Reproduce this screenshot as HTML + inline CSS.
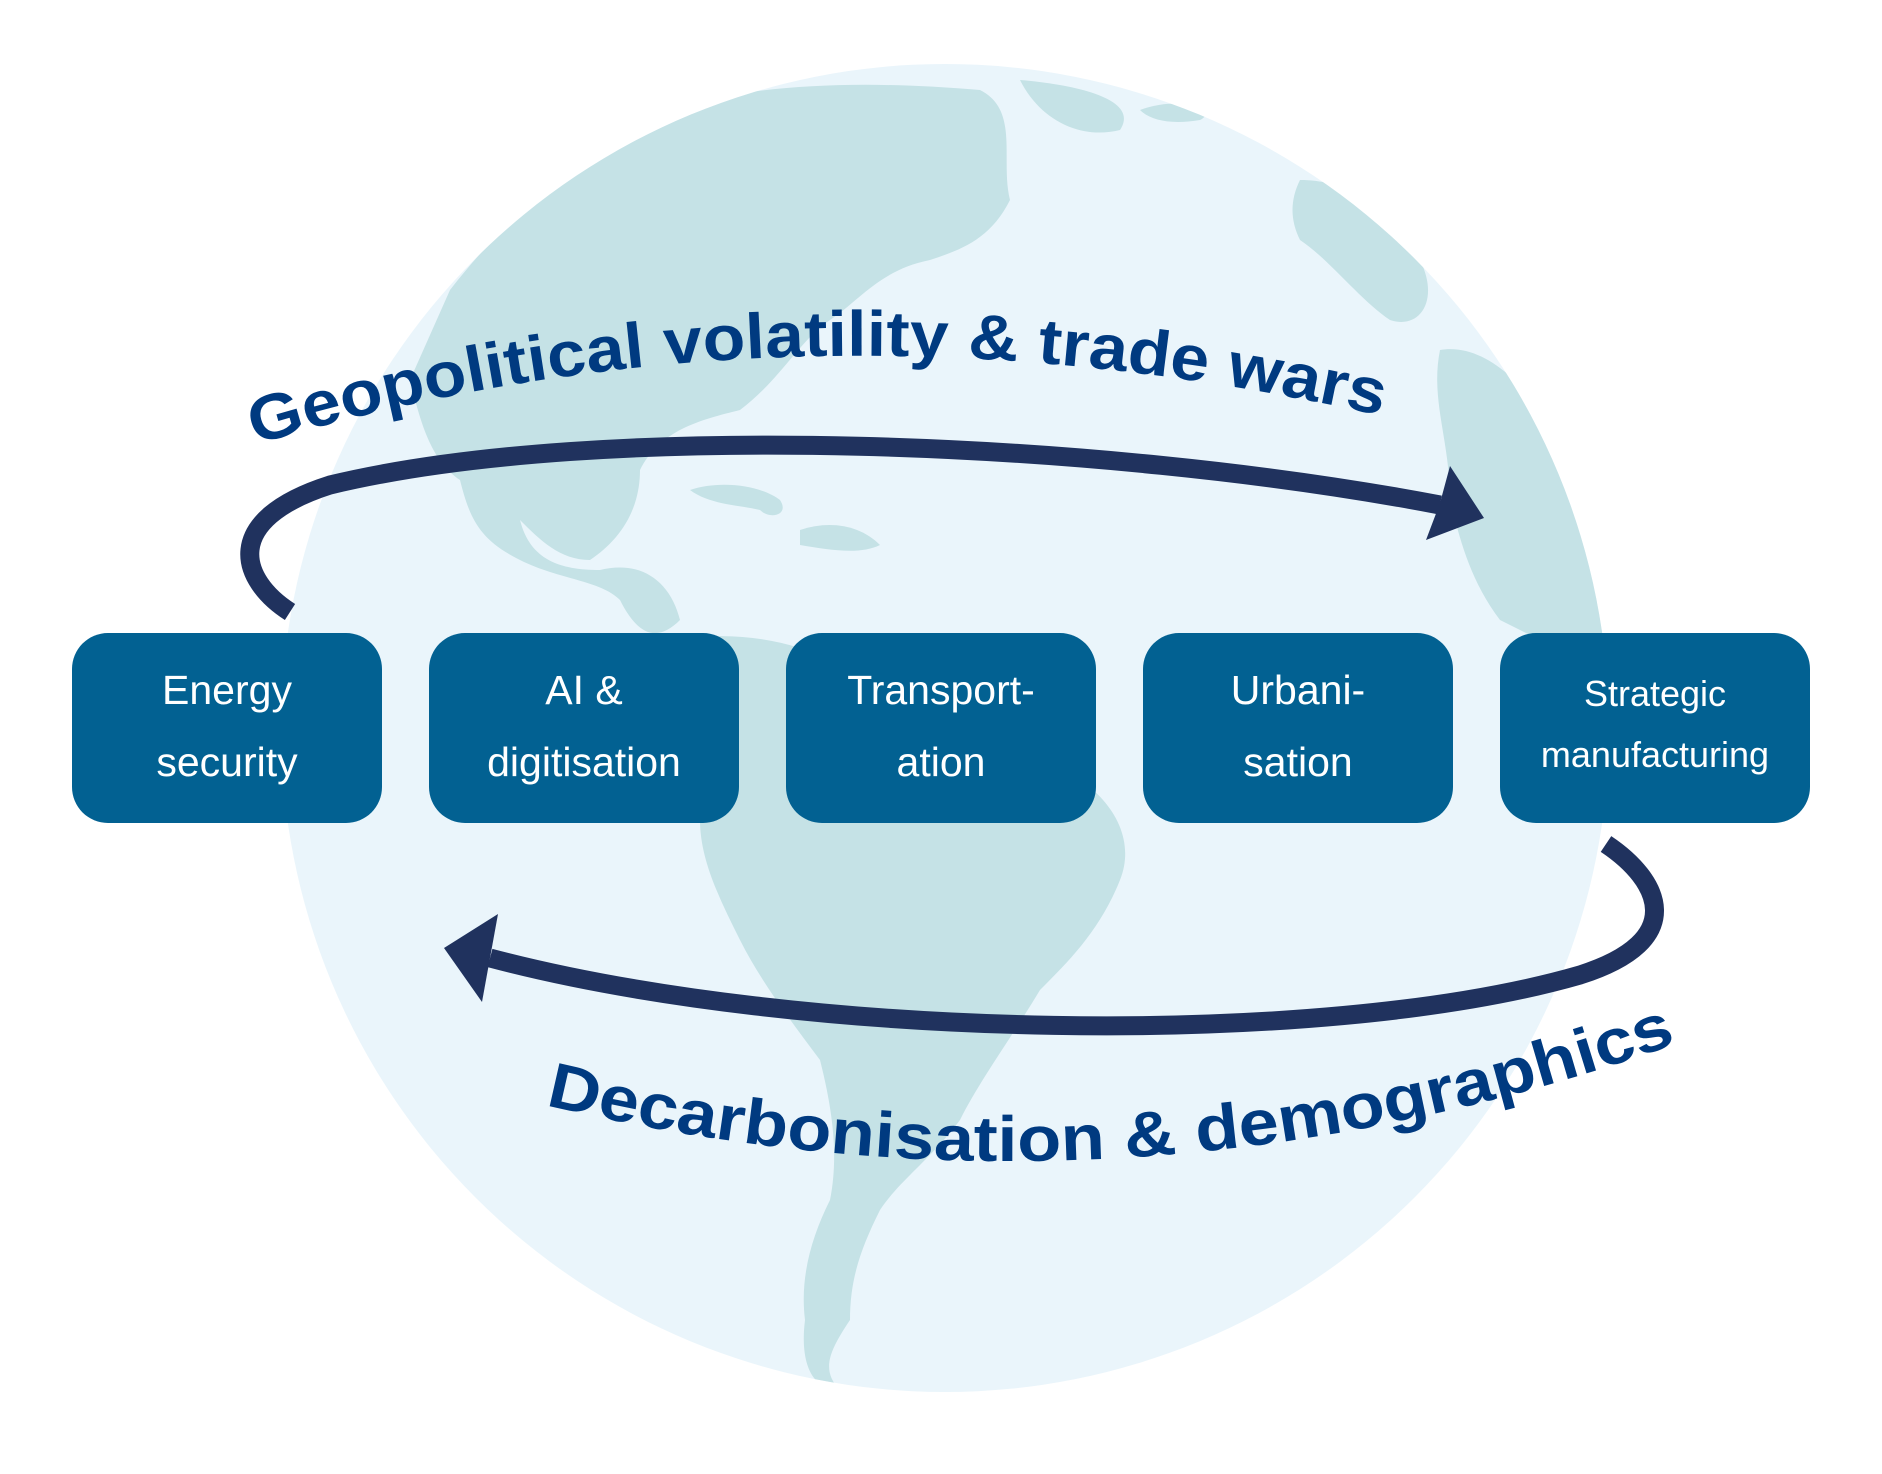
<!DOCTYPE html>
<html><head><meta charset="utf-8"><style>
html,body{margin:0;padding:0;background:#fff;width:1882px;height:1474px;overflow:hidden}
svg{display:block}
</style></head><body>
<svg width="1882" height="1474" viewBox="0 0 1882 1474" xmlns="http://www.w3.org/2000/svg">
<defs><clipPath id="g"><circle cx="945" cy="728" r="664"/></clipPath></defs>
<circle cx="945" cy="728" r="664" fill="#eaf5fb"/>
<g clip-path="url(#g)" fill="#c5e2e6">
<path d="M450 290 C520 200 600 140 700 100 C780 85 860 80 980 90 C1020 110 1000 160 1010 200 C990 240 960 250 930 260 C880 270 860 300 830 320 C800 340 780 380 740 410 C700 420 660 430 640 470 C640 510 620 540 590 560 C560 560 540 540 520 520 C530 560 560 570 600 570 C640 560 670 580 680 620 C660 640 640 640 620 600 C600 580 560 580 520 560 C480 540 470 520 460 480 C430 460 420 420 410 380 Z"/>
<path d="M1020 80 C1080 85 1140 100 1120 130 C1080 140 1040 120 1020 80 Z"/>
<path d="M1140 110 C1180 95 1220 110 1200 120 C1170 125 1150 120 1140 110 Z"/>
<path d="M690 490 C720 480 760 485 780 500 C790 515 770 520 760 510 C740 505 710 505 690 490 Z"/>
<path d="M800 530 C830 520 860 525 880 545 C860 555 830 550 800 545 Z"/>
<path d="M680 640 C730 630 790 640 830 660 C900 690 980 740 1040 760 C1100 780 1140 830 1120 880 C1100 930 1070 960 1040 990 C1010 1040 980 1080 960 1120 C930 1160 900 1180 880 1210 C860 1250 850 1280 850 1320 C830 1350 820 1370 840 1390 C810 1390 800 1360 805 1320 C800 1280 810 1240 830 1200 C840 1150 830 1100 820 1060 C790 1020 760 980 740 940 C720 900 700 860 700 820 C690 780 680 740 690 700 Z"/>
<path d="M1300 180 C1360 180 1400 220 1420 260 C1440 300 1420 330 1390 320 C1360 300 1330 260 1300 240 C1290 220 1290 200 1300 180 Z"/>
<path d="M1440 350 C1500 340 1560 420 1600 520 C1620 600 1620 650 1610 680 C1580 660 1540 640 1500 620 C1470 580 1460 540 1450 500 C1450 440 1430 400 1440 350 Z"/>
<path d="M1560 160 C1600 180 1640 230 1620 240 C1590 220 1570 190 1560 160 Z"/>
</g>
<path d="M290 612 C240 580 220 520 330 485 C600 420 1100 440 1440 505" fill="none" stroke="#20325e" stroke-width="19"/>
<path d="M1484 518 L1450 466 L1440 503 L1426 540 Z" fill="#20325e"/>
<path d="M1606 844 C1660 880 1690 940 1580 975 C1320 1050 800 1040 490 958" fill="none" stroke="#20325e" stroke-width="19"/>
<path d="M444 948 L498 914 L490 958 L482 1002 Z" fill="#20325e"/>
<g fill="#026192">
<rect x="72" y="633" width="310" height="190" rx="36"/>
<rect x="429" y="633" width="310" height="190" rx="36"/>
<rect x="786" y="633" width="310" height="190" rx="36"/>
<rect x="1143" y="633" width="310" height="190" rx="36"/>
<rect x="1500" y="633" width="310" height="190" rx="36"/>
</g>
<g fill="#fff" font-family="Liberation Sans, sans-serif" font-size="41" text-anchor="middle">
<text x="227" y="704">Energy</text><text x="227" y="776">security</text>
<text x="584" y="704">AI &amp;</text><text x="584" y="776">digitisation</text>
<text x="941" y="704">Transport-</text><text x="941" y="776">ation</text>
<text x="1298" y="704">Urbani-</text><text x="1298" y="776">sation</text>
<text x="1655" y="706" font-size="36">Strategic</text><text x="1655" y="767" font-size="36">manufacturing</text>
</g>
<path id="t1" d="M255 445 Q800 280 1400 420" fill="none"/>
<path id="t2" d="M545 1105 Q1150 1250 1740 1020" fill="none"/>
<g fill="#003a80" font-family="Liberation Sans, sans-serif" font-weight="bold" font-size="64">
<text><textPath href="#t1" textLength="1140" lengthAdjust="spacingAndGlyphs">Geopolitical volatility &amp; trade wars</textPath></text>
<text><textPath href="#t2" textLength="1150" lengthAdjust="spacingAndGlyphs">Decarbonisation &amp; demographics</textPath></text>
</g>
</svg>
</body></html>
